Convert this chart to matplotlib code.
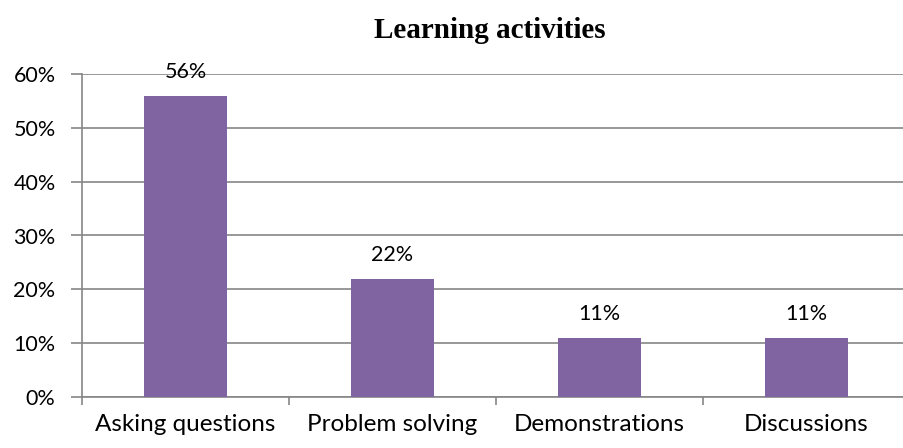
import matplotlib
matplotlib.use("Agg")
import matplotlib.pyplot as plt
import numpy as np
from matplotlib.ticker import FixedLocator

categories = ["Asking questions", "Problem solving", "Demonstrations", "Discussions"]
values = [56, 22, 11, 11]
yticks = [0, 10, 20, 30, 40, 50, 60]
title = "Learning activities"

plt.rcParams['font.family'] = ['Lato', 'DejaVu Sans']
grid_c = "#868686"

fig = plt.figure(figsize=(9.04, 4.48), dpi=100)
ax = fig.add_axes([82/904, 1-397/448, 828/904, (397-74)/448])

x = np.arange(len(categories))
ax.bar(x, values, width=0.4, color="#8064A2", zorder=3)
ax.set_xlim(-0.5, len(categories)-0.5)
ax.set_ylim(0, 60)
ax.set_yticks(yticks)
ax.set_yticklabels([f"{v}%" for v in yticks], fontsize=15.5)
ax.yaxis.grid(True, color=grid_c, linewidth=1.2, zorder=0)
ax.set_xticks(x)
ax.set_xticklabels(categories, fontsize=17.5)
ax.tick_params(axis='x', which='major', length=0, pad=12)
ax.xaxis.set_minor_locator(FixedLocator(np.arange(-0.5, len(categories), 1.0)))
ax.tick_params(axis='x', which='minor', length=6, color=grid_c, width=1.2, direction='out')
ax.tick_params(axis='y', length=8, color=grid_c, width=1.2, pad=11)
for s in ['top', 'right']:
    ax.spines[s].set_visible(False)
for s in ['left', 'bottom']:
    ax.spines[s].set_color(grid_c)
    ax.spines[s].set_linewidth(1.2)

for xi, v in zip(x, values):
    ax.annotate(f"{v}%", (xi, v), xytext=(0, 10), textcoords='offset points',
                ha='center', va='bottom', fontsize=15.5)

fig.text(490/904, 1-30/448, title, ha='center', va='center', fontsize=21,
         fontweight='bold', family='Liberation Serif')

fig.savefig("out.png", dpi=100)
